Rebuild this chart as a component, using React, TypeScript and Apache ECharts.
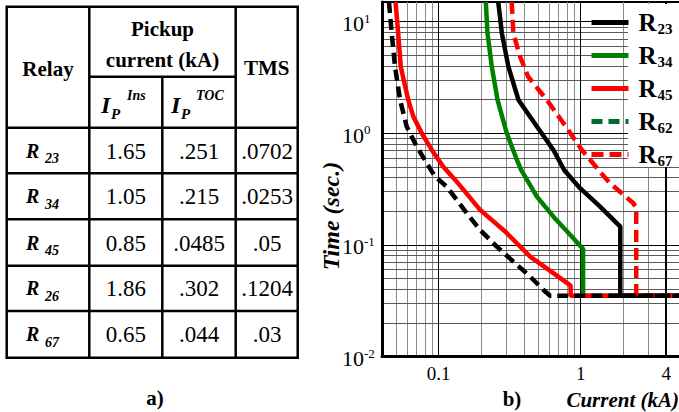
import React, { useEffect, useRef } from 'react';
import * as echarts from 'echarts';

const SERIF = "'Liberation Serif', 'Times New Roman', Times, serif";

// a) relay settings table
const relayIds = ['23', '34', '45', '26', '67'];
const insPickup = ['1.65', '1.05', '0.85', '1.86', '0.65'];
const tocPickup = ['.251', '.215', '.0485', '.302', '.044'];
const tmsValues = ['.0702', '.0253', '.05', '.1204', '.03'];

// b) time-current characteristics (current in kA, time in s)
const r23Current = [0.263, 0.279, 0.31, 0.365, 0.492, 0.643, 0.765, 0.99, 1.37, 1.9, 1.9, 5];
const r23Time = [15, 7.86, 3.95, 1.99, 1.15, 0.709, 0.469, 0.322, 0.22, 0.146, 0.035, 0.035];
const r34Current = [0.215, 0.221, 0.237, 0.26, 0.302, 0.356, 0.381, 0.492, 0.643, 0.843, 1.04, 1.04, 5];
const r34Time = [15, 7.86, 3.95, 1.99, 1.0, 0.577, 0.469, 0.271, 0.179, 0.123, 0.092, 0.035, 0.035];
const r45Current = [0.0498, 0.052, 0.0542, 0.0612, 0.0665, 0.0762, 0.0896, 0.108, 0.131, 0.15, 0.196, 0.294, 0.441, 0.643, 0.817, 0.85, 0.85, 5];
const r45Time = [15, 7.86, 3.95, 1.99, 1.41, 1.0, 0.709, 0.502, 0.382, 0.311, 0.206, 0.132, 0.0786, 0.0558, 0.0448, 0.043, 0.035, 0.035];
const r62Current = [0.0448, 0.0468, 0.0494, 0.0536, 0.0597, 0.0702, 0.0826, 0.0945, 0.114, 0.158, 0.196, 0.257, 0.336, 0.441, 0.562, 0.61, 5];
const r62Time = [15, 7.86, 3.95, 1.99, 1.15, 0.759, 0.539, 0.409, 0.333, 0.192, 0.136, 0.0966, 0.0709, 0.052, 0.0382, 0.035, 0.035];
const r67Current = [0.327, 0.336, 0.375, 0.427, 0.578, 0.757, 1.02, 1.37, 1.61, 2.35, 2.46, 2.46, 5];
const r67Time = [15, 7.86, 4.85, 3.21, 1.99, 1.23, 0.709, 0.451, 0.357, 0.236, 0.214, 0.035, 0.035];

const legendNames = ['R23', 'R34', 'R45', 'R62', 'R67'];
const xTickValues = [0.1, 1, 4];
const yTickValues = [0.01, 0.1, 1, 10];
const xGridMinor = [0.05, 0.06, 0.07, 0.08, 0.09, 0.2, 0.3, 0.4, 0.5, 0.6, 0.7, 0.8, 0.9, 2, 3];
const xGridMajor = [0.1, 1, 4];
const yGridMinor = [
  0.02, 0.03, 0.04, 0.05, 0.06, 0.07, 0.08, 0.09,
  0.2, 0.3, 0.4, 0.5, 0.6, 0.7, 0.8, 0.9,
  2, 3, 4, 5, 6, 7, 8, 9,
];
const yGridMajor = [0.1, 1, 10];

const BLACK = '#000000';
const GREEN = '#008000';
const RED = '#ff0000';

function pairs(xs: number[], ys: number[]) {
  return xs.map((x, i) => [x, ys[i]]);
}

function curve(name: string, xs: number[], ys: number[], color: string, dash?: number[]) {
  return {
    name,
    type: 'line',
    data: pairs(xs, ys),
    symbol: 'none',
    showSymbol: false,
    silent: true,
    z: 3,
    clip: true,
    itemStyle: { color },
    lineStyle: { color, width: 4.5, type: dash ?? 'solid' },
  };
}

function text(x: number, y: number, t: string, size: number, weight: string, fontStyle: string, align = 'center') {
  return {
    type: 'text',
    x,
    y,
    silent: true,
    style: {
      text: t,
      fontSize: size,
      fontWeight: weight,
      fontStyle,
      fontFamily: SERIF,
      fill: '#000',
      align,
      verticalAlign: 'middle',
    },
  };
}

function line(x1: number, y1: number, x2: number, y2: number) {
  return {
    type: 'line',
    silent: true,
    shape: { x1, y1, x2, y2 },
    style: { stroke: '#000', lineWidth: 2.5 },
  };
}

function buildTable() {
  const els: any[] = [];
  const left = 6.7, right = 297.7, top = 6.7;
  const c1 = 89.3, c2 = 162.3, c3 = 235.7;
  const subRow = 76.7;
  const rows = [127.7, 173.3, 219.3, 265.7, 311, 357.7];
  els.push({
    type: 'rect', silent: true,
    shape: { x: left, y: top, width: right - left, height: rows[rows.length - 1] - top },
    style: { fill: 'none', stroke: '#000', lineWidth: 2.5 },
  });
  els.push(line(c1, top, c1, rows[rows.length - 1]));
  els.push(line(c3, top, c3, rows[rows.length - 1]));
  els.push(line(c2, subRow, c2, rows[rows.length - 1]));
  els.push(line(c1, subRow, c3, subRow));
  rows.slice(0, -1).forEach((y) => els.push(line(left, y, right, y)));

  // header
  els.push(text((left + c1) / 2, 69, 'Relay', 21, 'bold', 'normal'));
  els.push(text((c1 + c3) / 2, 29, 'Pickup', 21, 'bold', 'normal'));
  els.push(text((c1 + c3) / 2, 60, 'current (kA)', 21, 'bold', 'normal'));
  els.push(text((c3 + right) / 2, 68, 'TMS', 21, 'bold', 'normal'));
  // I_P^Ins and I_P^TOC
  els.push(text(101, 105, 'I', 24, 'bold', 'italic', 'left'));
  els.push(text(111, 113.5, 'P', 15, 'bold', 'italic', 'left'));
  els.push(text(127, 95, 'Ins', 14, 'bold', 'italic', 'left'));
  els.push(text(171, 105, 'I', 24, 'bold', 'italic', 'left'));
  els.push(text(181, 113.5, 'P', 15, 'bold', 'italic', 'left'));
  els.push(text(196, 95, 'TOC', 14, 'bold', 'italic', 'left'));

  relayIds.forEach((id, i) => {
    const cy = (rows[i] + rows[i + 1]) / 2;
    els.push(text(26, cy, 'R', 20, 'bold', 'italic', 'left'));
    els.push(text(45, cy + 8, id, 14, 'bold', 'italic', 'left'));
    els.push(text((c1 + c2) / 2, cy + 0.5, insPickup[i], 23, 'normal', 'normal'));
    els.push(text((c2 + c3) / 2, cy + 0.5, tocPickup[i], 23, 'normal', 'normal'));
    els.push(text((c3 + right) / 2 + 0.5, cy + 0.5, tmsValues[i], 23, 'normal', 'normal'));
  });

  els.push(text(155, 398, 'a)', 21, 'bold', 'normal'));
  return els;
}

function gridLines() {
  const minor = (color: string) => ({ color, width: 1, type: 'solid' });
  const major = { color: '#000', width: 1, type: 'solid' };
  return [
    ...xGridMinor.map((v) => ({ xAxis: v, lineStyle: minor('#8a8a8a') })),
    ...yGridMinor.map((v) => ({ yAxis: v, lineStyle: minor('#5a5a5a') })),
    ...xGridMajor.map((v) => ({ xAxis: v, lineStyle: { ...major, width: v === 4 ? 2 : 1 } })),
    ...yGridMajor.map((v) => ({ yAxis: v, lineStyle: major })),
  ];
}

export default function App() {
  const ref = useRef<HTMLDivElement>(null);

  useEffect(() => {
    if (!ref.current) return;
    const chart = echarts.init(ref.current, null, { renderer: 'svg' });
    const option: any = {
      animation: false,
      backgroundColor: '#ffffff',
      grid: {
        left: 382,
        top: 2,
        width: 298,
        height: 354.5,
        show: true,
        borderColor: '#000',
        borderWidth: 2,
        backgroundColor: 'transparent',
        containLabel: false,
        outerBoundsMode: 'none',
      },
      xAxis: {
        type: 'log',
        logBase: 10,
        min: 0.04,
        max: 5,
        z: 4,
        axisLine: { show: true, lineStyle: { color: '#000', width: 3 } },
        axisTick: { show: false },
        splitLine: { show: false },
        minorTick: { show: false },
        minorSplitLine: { show: false },
        axisLabel: {
          customValues: xTickValues,
          formatter: (v: number) => String(+Number(v).toPrecision(3)),
          fontFamily: SERIF,
          fontSize: 19,
          color: '#000',
          margin: 7,
        },
      },
      yAxis: {
        type: 'log',
        logBase: 10,
        min: 0.01,
        max: 15,
        z: 4,
        axisLine: { show: true, lineStyle: { color: '#000', width: 3 } },
        axisTick: { show: false },
        splitLine: { show: false },
        minorTick: { show: false },
        minorSplitLine: { show: false },
        axisLabel: {
          customValues: yTickValues,
          formatter: (v: number) => `{b|10}{e|${Math.round(Math.log10(v))}}`,
          align: 'left',
          margin: 40,
          color: '#000',
          rich: {
            b: { fontFamily: SERIF, fontSize: 22, lineHeight: 20, padding: [9, 0, 5, 0], color: '#000' },
            e: { fontFamily: SERIF, fontSize: 13, lineHeight: 12, verticalAlign: 'top', color: '#000' },
          },
        },
      },
      legend: {
        orient: 'vertical',
        left: 584,
        top: 4,
        itemWidth: 37,
        itemHeight: 12,
        itemGap: 6,
        selectedMode: false,
        itemStyle: { opacity: 0 },
        lineStyle: { width: 5 },
        data: [
          'R23',
          'R34',
          'R45',
          { name: 'R62', lineStyle: { color: '#006b2d', width: 5 } },
          'R67',
        ].filter((d: any) => legendNames.includes(typeof d === 'string' ? d : d.name)),
        formatter: (name: string) => `{r|R}{s|${name.slice(1)}}`,
        textStyle: {
          color: '#000',
          rich: {
            r: { fontFamily: SERIF, fontSize: 25, fontWeight: 'bold', lineHeight: 27, padding: [0, 0, 0, 5], color: '#000' },
            s: { fontFamily: SERIF, fontSize: 15, fontWeight: 'bold', lineHeight: 15, padding: [12, 0, 0, 1], verticalAlign: 'bottom', color: '#000' },
          },
        },
      },
      graphic: [
        {
          type: 'rect',
          silent: true,
          z: 3,
          shape: { x: 628, y: 4, width: 51, height: 163 },
          style: { fill: '#ffffff' },
        },
        ...buildTable(),
        {
          type: 'text',
          x: 331,
          y: 216,
          rotation: Math.PI / 2,
          silent: true,
          style: {
            text: 'Time (sec.)',
            fontFamily: SERIF,
            fontSize: 24,
            fontWeight: 'bold',
            fontStyle: 'italic',
            fill: '#000',
            align: 'center',
            verticalAlign: 'middle',
          },
        },
        text(512, 399, 'b)', 21, 'bold', 'normal'),
        text(679, 400, 'Current (kA)', 21, 'bold', 'italic', 'right'),
      ],
      series: [
        {
          name: 'gridlines',
          type: 'line',
          data: [],
          silent: true,
          z: 1,
          markLine: {
            silent: true,
            z: 1,
            symbol: ['none', 'none'],
            label: { show: false },
            emphasis: { disabled: true },
            lineStyle: { type: 'solid', width: 1 },
            data: gridLines(),
          },
        },
        curve('R34', r34Current, r34Time, GREEN),
        curve('R45', r45Current, r45Time, RED),
        curve('R23', r23Current, r23Time, BLACK),
        curve('R67', r67Current, r67Time, RED, [12, 6]),
        curve('R62', r62Current, r62Time, BLACK, [11, 6]),
      ],
    };
    chart.setOption(option);
    return () => chart.dispose();
  }, []);

  return (
    <div
      ref={ref}
      style={{ position: 'fixed', left: 0, top: 0, width: 679, height: 412, background: '#fff' }}
    />
  );
}
